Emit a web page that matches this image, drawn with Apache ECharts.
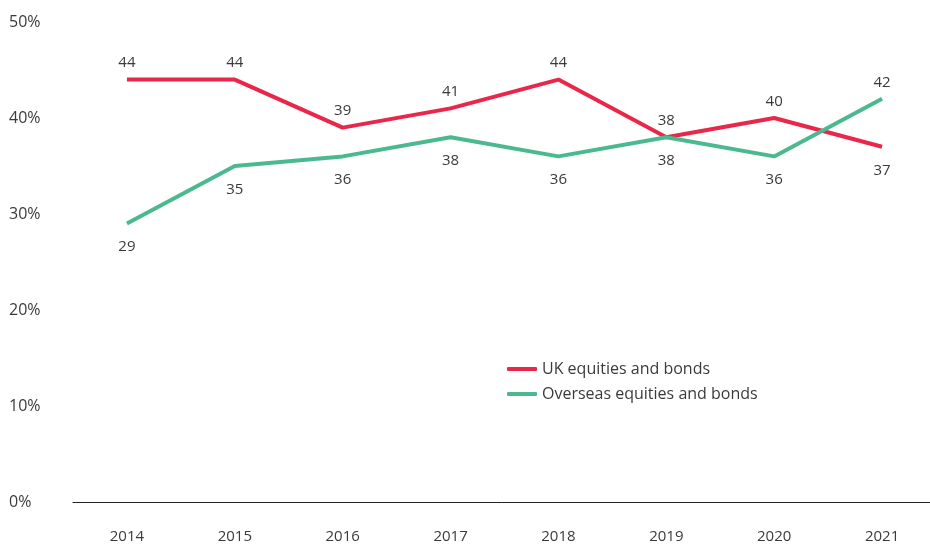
<!DOCTYPE html>
<html>
<head>
<meta charset="utf-8">
<script src="https://cdn.jsdelivr.net/npm/echarts@6/dist/echarts.min.js"></script>
<style>
  html, body { margin: 0; padding: 0; background: #fff; }
  #chart { width: 930px; height: 545px; }
</style>
</head>
<body>
<div id="chart"></div>
<script>
// Share of holdings by region, per year (%)
const years = ['2014', '2015', '2016', '2017', '2018', '2019', '2020', '2021'];
const ukValues = [44, 44, 39, 41, 44, 38, 40, 37];
const overseasValues = [29, 35, 36, 38, 36, 38, 36, 42];
const yTicks = [0, 10, 20, 30, 40, 50];

const FONT = '"Open Sans", Lato, sans-serif';
const TEXT = '#3a3a3a';
const RED = '#e8274b';
const GREEN = '#4bb98f';

// Labels sit above the red line and below the green one, swapped in the final year
function labelled(values, above) {
  return values.map((v, i) => {
    const up = (i === values.length - 1) ? !above : above;
    return {
      value: v,
      label: { position: up ? 'top' : 'bottom', distance: up ? 9 : 16 }
    };
  });
}

const chart = echarts.init(document.getElementById('chart'), null, { renderer: 'canvas' });
chart.setOption({
  animation: false,
  backgroundColor: '#ffffff',
  textStyle: { fontFamily: FONT },
  grid: { left: 73, top: 22, right: -6, bottom: 43, containLabel: false, outerBoundsMode: 'none' },
  legend: {
    orient: 'vertical',
    left: 502,
    top: 356,
    itemWidth: 30,
    itemHeight: 4,
    itemGap: 9,
    icon: 'roundRect',
    textStyle: { fontFamily: FONT, fontSize: 16, color: TEXT },
    data: ['UK equities and bonds', 'Overseas equities and bonds']
  },
  xAxis: {
    type: 'category',
    data: years,
    boundaryGap: true,
    axisLine: { show: true, lineStyle: { color: '#222', width: 1 } },
    axisTick: { show: false },
    axisLabel: { color: TEXT, fontSize: 15, fontFamily: FONT, margin: 27 }
  },
  yAxis: {
    type: 'value',
    min: 0,
    max: 50,
    interval: 10,
    splitLine: { show: false },
    axisLine: { show: false },
    axisTick: { show: false },
    axisLabel: {
      color: TEXT,
      fontSize: 16,
      fontFamily: FONT,
      align: 'left',
      margin: 64,
      formatter: v => (yTicks.includes(v) ? v + '%' : '')
    }
  },
  series: [
    {
      name: 'UK equities and bonds',
      type: 'line',
      data: labelled(ukValues, true),
      symbol: 'circle',
      symbolSize: 0,
      showSymbol: true,
      color: RED,
      itemStyle: { color: RED },
      lineStyle: { color: RED, width: 4 },
      label: { show: true, color: TEXT, fontSize: 15, fontFamily: FONT, opacity: 1 }
    },
    {
      name: 'Overseas equities and bonds',
      type: 'line',
      data: labelled(overseasValues, false),
      symbol: 'circle',
      symbolSize: 0,
      showSymbol: true,
      color: GREEN,
      itemStyle: { color: GREEN },
      lineStyle: { color: GREEN, width: 4 },
      label: { show: true, color: TEXT, fontSize: 15, fontFamily: FONT, opacity: 1 }
    }
  ]
});
</script>
</body>
</html>
